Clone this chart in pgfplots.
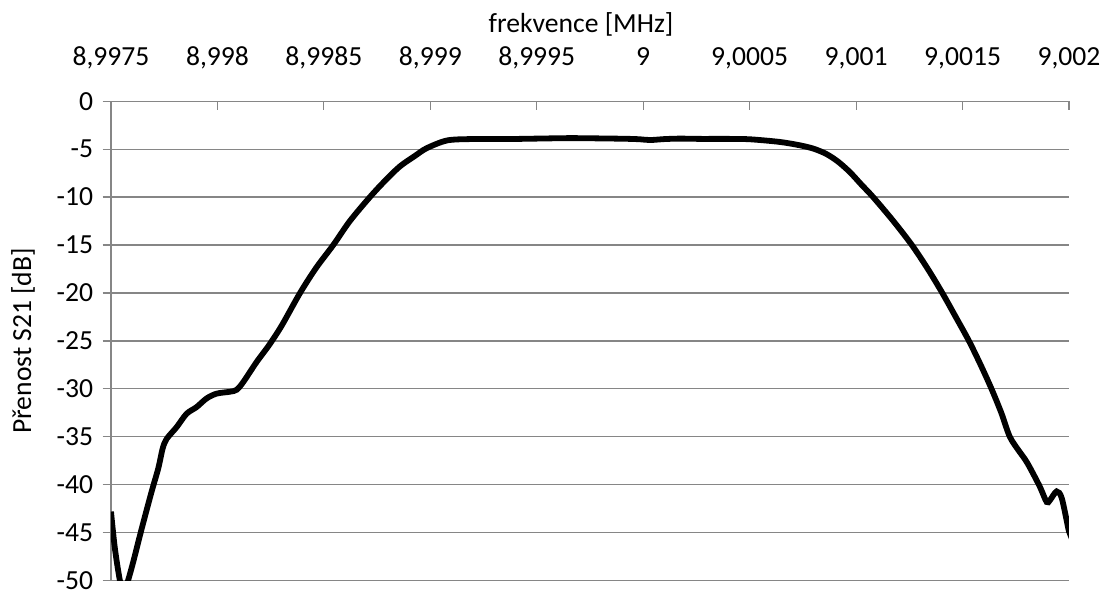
\documentclass[border=0pt]{standalone}
\usepackage{fontspec}
\setmainfont{Carlito}
\usepackage{pgfplots}
\pgfplotsset{compat=1.18}
\definecolor{axgray}{HTML}{868686}
% x: frequency offset from 9 MHz in Hz, y: S21 in dB
\pgfplotstableread{
x y
-2500 -42.8
-2482 -46.6
-2458 -50.0
-2439 -51.2
-2420 -50.0
-2395 -48.0
-2356 -44.6
-2309 -40.7
-2278 -38.3
-2257 -36.2
-2238 -35.2
-2192 -34.0
-2145 -32.6
-2098 -31.9
-2051 -31.0
-2004 -30.5
-1941 -30.3
-1910 -30.1
-1879 -29.3
-1816 -27.2
-1769 -25.8
-1753 -25.3
-1698 -23.4
-1612 -20.0
-1537 -17.4
-1456 -15.0
-1378 -12.5
-1284 -10.0
-1213 -8.3
-1143 -6.8
-1072 -5.7
-1017 -4.9
-923 -4.1
-814 -3.95
-650 -3.95
-501 -3.9
-344 -3.85
-203 -3.88
-80 -3.92
-15 -3.97
32 -4.05
100 -3.95
173 -3.9
266 -3.93
400 -3.93
501 -3.97
642 -4.25
736 -4.6
800 -4.95
860 -5.5
915 -6.3
971 -7.4
1025 -8.7
1080 -10.0
1175 -12.5
1262 -15.0
1337 -17.5
1405 -20.0
1468 -22.5
1530 -25.0
1585 -27.5
1636 -30.0
1682 -32.5
1722 -35.0
1769 -36.6
1792 -37.3
1816 -38.2
1863 -40.2
1895 -41.8
1911 -41.6
1942 -40.7
1966 -41.4
1997 -44.6
2000 -44.8
}\datatable
\begin{document}
\fontsize{13.8}{16}\selectfont
\begin{tikzpicture}
\useasboundingbox (0,0) rectangle (552.5pt,295.5pt);
\begin{axis}[
  name=ax,
  at={(55.5pt,5.2pt)}, anchor=south west,
  width=479pt, height=239.7pt, scale only axis,
  xmin=-2500, xmax=2000, ymin=-50, ymax=0,
  axis x line*=top, axis y line*=left,
  axis line style={axgray, line width=0.6pt},
  xtick={-2500,-2000,...,2000},
  xticklabels={{8,9975},{8,998},{8,9985},{8,999},{8,9995},{9},{9,0005},{9,001},{9,0015},{9,002}},
  ytick={-50,-45,...,0},
  yticklabels={-50,-45,-40,-35,-30,-25,-20,-15,-10,-5,0},
  ymajorgrids, grid style={axgray, line width=0.6pt},
  major tick length=4.2pt,
  xtick align=inside, ytick align=outside,
  tick style={axgray, line width=0.6pt},
  xticklabel style={anchor=base, yshift=18pt},
  yticklabel style={anchor=east, inner ysep=0pt},
  x tick label style={font=\fontsize{13.8}{16}\selectfont},
  y tick label style={font=\fontsize{13.8}{16}\selectfont},
  minor tick num=0,
]
\addplot[black, line width=2.9pt, smooth, tension=0.5] table[x=x,y=y]{\datatable};
\end{axis}
\node[rotate=90] at ([xshift=-44pt]ax.west) {Přenost S21 [dB]};
\node at ([xshift=-4.5pt, yshift=38.6pt]ax.north) {frekvence [MHz]};
\end{tikzpicture}
\end{document}
